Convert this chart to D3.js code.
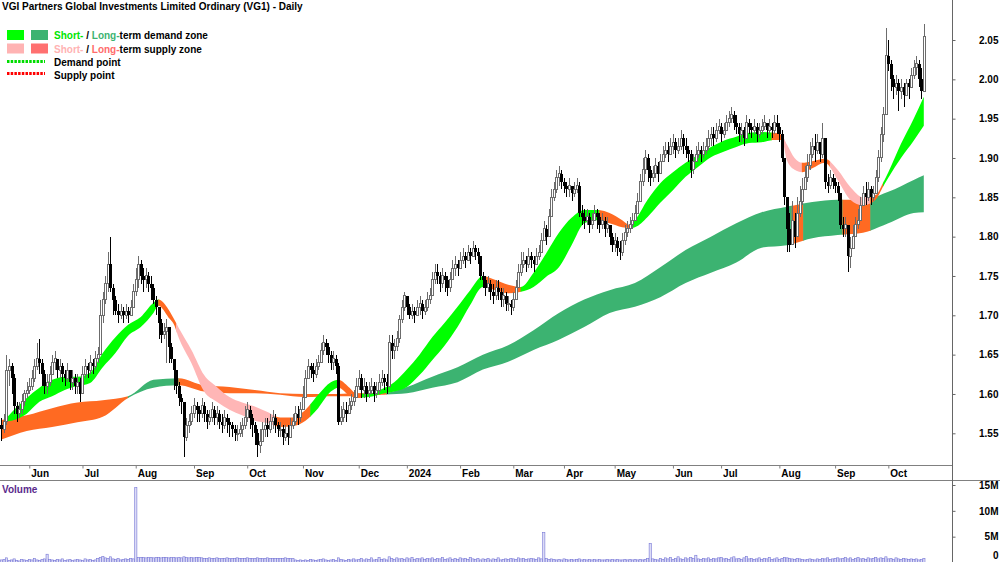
<!DOCTYPE html>
<html>
<head>
<meta charset="utf-8">
<title>VG1 Daily</title>
<script src="https://cdn.jsdelivr.net/npm/d3@7"></script>
<style>
  body { margin: 0; background: #fff; }
  svg { display: block; font-family: "Liberation Sans", Arial, sans-serif; }
</style>
</head>
<body>
<div id="chart"></div>
<script>
// trading calendar (ASX)
const startDate = "2023-05-17";
const holidays = ["2023-06-12", "2023-12-25", "2023-12-26", "2024-01-01", "2024-01-26",
  "2024-03-29", "2024-04-01", "2024-04-25", "2024-06-10"];

// daily closes, one row = 10 sessions
const firstOpen = 1.56;
const closes = [
  1.555,1.565,1.63,1.635,1.62,1.585,1.575,1.58,1.59,1.60,
  1.605,1.61,1.62,1.635,1.645,1.64,1.625,1.61,1.615,1.625,
  1.64,1.645,1.63,1.635,1.625,1.62,1.63,1.615,1.62,1.61,
  1.615,1.60,1.625,1.635,1.63,1.64,1.635,1.645,1.65,1.70,
  1.72,1.74,1.765,1.735,1.72,1.705,1.70,1.705,1.70,1.705,
  1.70,1.71,1.73,1.745,1.765,1.75,1.745,1.75,1.74,1.735,
  1.72,1.71,1.69,1.675,1.68,1.685,1.66,1.645,1.63,1.61,
  1.595,1.59,1.545,1.56,1.565,1.575,1.585,1.58,1.575,1.585,
  1.575,1.565,1.57,1.58,1.57,1.575,1.565,1.56,1.57,1.565,
  1.56,1.555,1.55,1.55,1.555,1.56,1.57,1.58,1.57,1.56,
  1.55,1.535,1.54,1.555,1.56,1.555,1.565,1.57,1.56,1.555,
  1.555,1.545,1.55,1.545,1.56,1.565,1.575,1.57,1.58,1.595,
  1.62,1.635,1.63,1.625,1.635,1.64,1.655,1.665,1.66,1.65,
  1.64,1.645,1.635,1.565,1.57,1.58,1.575,1.585,1.59,1.595,
  1.61,1.62,1.605,1.61,1.60,1.605,1.61,1.60,1.605,1.615,
  1.62,1.615,1.61,1.665,1.655,1.66,1.67,1.695,1.71,1.725,
  1.71,1.70,1.705,1.70,1.71,1.715,1.705,1.71,1.72,1.725,
  1.745,1.755,1.75,1.74,1.75,1.745,1.735,1.745,1.76,1.765,
  1.76,1.77,1.775,1.77,1.78,1.775,1.785,1.78,1.775,1.75,
  1.745,1.735,1.74,1.73,1.725,1.735,1.73,1.72,1.725,1.715,
  1.715,1.71,1.72,1.735,1.755,1.765,1.77,1.765,1.775,1.77,
  1.765,1.775,1.78,1.795,1.81,1.80,1.825,1.85,1.86,1.875,
  1.88,1.87,1.865,1.86,1.865,1.855,1.86,1.865,1.83,1.825,
  1.82,1.825,1.815,1.82,1.83,1.825,1.815,1.82,1.81,1.815,
  1.80,1.79,1.795,1.785,1.78,1.795,1.805,1.81,1.815,1.82,
  1.83,1.845,1.87,1.885,1.90,1.885,1.875,1.88,1.89,1.88,
  1.895,1.905,1.91,1.905,1.915,1.92,1.91,1.915,1.925,1.915,
  1.91,1.905,1.885,1.895,1.905,1.91,1.905,1.91,1.915,1.925,
  1.93,1.925,1.935,1.94,1.93,1.935,1.945,1.95,1.955,1.945,
  1.94,1.93,1.935,1.925,1.945,1.94,1.935,1.94,1.93,1.935,
  1.94,1.945,1.935,1.94,1.935,1.945,1.94,1.93,1.90,1.85,
  1.81,1.79,1.82,1.80,1.83,1.845,1.86,1.875,1.89,1.905,
  1.915,1.91,1.92,1.905,1.925,1.87,1.865,1.875,1.87,1.865,
  1.855,1.815,1.81,1.815,1.775,1.785,1.80,1.815,1.82,1.84,
  1.855,1.85,1.86,1.85,1.855,1.875,1.90,1.93,1.955,2.03,
  2.02,2.00,1.99,1.995,1.985,1.99,1.98,1.995,1.99,2.005,
  2.015,2.02,2.00,1.985,2.055
];
const highs = [
  1.57,1.575,1.65,1.645,1.64,1.625,1.59,1.59,1.60,1.605,
  1.615,1.62,1.63,1.645,1.665,1.67,1.645,1.63,1.625,1.635,
  1.65,1.655,1.645,1.645,1.64,1.63,1.64,1.63,1.63,1.625,
  1.625,1.62,1.635,1.645,1.64,1.65,1.645,1.655,1.66,1.72,
  1.73,1.75,1.78,1.80,1.74,1.725,1.715,1.715,1.71,1.715,
  1.71,1.72,1.74,1.76,1.775,1.77,1.76,1.76,1.755,1.75,
  1.74,1.725,1.705,1.695,1.69,1.695,1.67,1.665,1.645,1.625,
  1.615,1.60,1.59,1.57,1.575,1.585,1.595,1.59,1.585,1.595,
  1.59,1.58,1.58,1.59,1.585,1.585,1.58,1.575,1.58,1.575,
  1.57,1.565,1.56,1.56,1.565,1.57,1.585,1.59,1.585,1.575,
  1.565,1.555,1.555,1.565,1.57,1.57,1.575,1.58,1.575,1.565,
  1.565,1.56,1.56,1.56,1.57,1.575,1.585,1.585,1.59,1.61,
  1.63,1.645,1.64,1.64,1.645,1.65,1.665,1.675,1.67,1.665,
  1.655,1.655,1.65,1.64,1.585,1.59,1.59,1.595,1.60,1.605,
  1.62,1.63,1.625,1.62,1.615,1.615,1.62,1.615,1.615,1.625,
  1.63,1.625,1.625,1.675,1.675,1.67,1.68,1.70,1.72,1.73,
  1.725,1.715,1.715,1.71,1.72,1.725,1.72,1.72,1.73,1.735,
  1.755,1.765,1.765,1.755,1.76,1.755,1.75,1.755,1.77,1.775,
  1.77,1.78,1.785,1.78,1.79,1.785,1.795,1.79,1.785,1.775,
  1.755,1.75,1.75,1.745,1.74,1.745,1.745,1.735,1.735,1.73,
  1.725,1.72,1.73,1.745,1.765,1.78,1.78,1.775,1.785,1.78,
  1.775,1.785,1.79,1.805,1.82,1.815,1.835,1.86,1.87,1.885,
  1.89,1.885,1.875,1.87,1.875,1.865,1.87,1.875,1.87,1.84,
  1.835,1.835,1.83,1.83,1.84,1.835,1.83,1.83,1.825,1.825,
  1.815,1.805,1.805,1.80,1.795,1.805,1.815,1.82,1.825,1.83,
  1.84,1.855,1.88,1.90,1.91,1.905,1.89,1.89,1.90,1.895,
  1.905,1.915,1.92,1.92,1.925,1.93,1.925,1.925,1.935,1.93,
  1.925,1.915,1.91,1.905,1.915,1.92,1.915,1.92,1.925,1.935,
  1.94,1.94,1.945,1.95,1.945,1.945,1.955,1.96,1.965,1.96,
  1.955,1.945,1.945,1.94,1.955,1.95,1.945,1.95,1.945,1.945,
  1.95,1.955,1.945,1.95,1.945,1.955,1.955,1.945,1.935,1.87,
  1.85,1.83,1.845,1.83,1.85,1.865,1.875,1.89,1.905,1.92,
  1.925,1.93,1.93,1.92,1.945,1.925,1.88,1.885,1.88,1.875,
  1.87,1.855,1.825,1.825,1.80,1.80,1.815,1.825,1.835,1.85,
  1.865,1.87,1.87,1.865,1.865,1.885,1.91,1.94,1.965,2.065,
  2.05,2.025,2.005,2.005,2.00,2.00,1.995,2.00,2.00,2.015,
  2.025,2.03,2.025,2.015,2.07
];
const lows = [
  1.54,1.55,1.56,1.61,1.60,1.575,1.565,1.57,1.575,1.585,
  1.595,1.60,1.605,1.615,1.63,1.625,1.61,1.60,1.60,1.61,
  1.625,1.63,1.62,1.62,1.615,1.61,1.615,1.605,1.605,1.60,
  1.60,1.59,1.60,1.62,1.62,1.625,1.625,1.63,1.64,1.65,
  1.69,1.715,1.73,1.73,1.70,1.70,1.69,1.695,1.69,1.695,
  1.69,1.70,1.71,1.725,1.735,1.74,1.73,1.735,1.73,1.72,
  1.715,1.70,1.67,1.665,1.67,1.64,1.64,1.64,1.605,1.60,
  1.585,1.575,1.52,1.54,1.55,1.56,1.57,1.565,1.565,1.57,
  1.565,1.555,1.56,1.565,1.56,1.56,1.555,1.55,1.555,1.55,
  1.545,1.545,1.54,1.54,1.545,1.545,1.555,1.565,1.555,1.545,
  1.535,1.52,1.525,1.54,1.545,1.545,1.55,1.555,1.55,1.545,
  1.545,1.535,1.54,1.535,1.545,1.555,1.56,1.56,1.565,1.58,
  1.605,1.62,1.62,1.615,1.62,1.63,1.64,1.65,1.65,1.64,
  1.63,1.63,1.625,1.56,1.56,1.565,1.565,1.575,1.58,1.585,
  1.595,1.605,1.595,1.595,1.59,1.595,1.60,1.59,1.595,1.60,
  1.61,1.605,1.60,1.615,1.645,1.645,1.655,1.665,1.69,1.705,
  1.70,1.695,1.695,1.69,1.70,1.70,1.695,1.70,1.705,1.715,
  1.725,1.74,1.74,1.73,1.735,1.73,1.725,1.73,1.745,1.75,
  1.75,1.76,1.765,1.76,1.77,1.765,1.775,1.77,1.765,1.745,
  1.735,1.725,1.73,1.72,1.715,1.72,1.72,1.71,1.71,1.705,
  1.705,1.70,1.705,1.72,1.735,1.75,1.76,1.755,1.76,1.76,
  1.755,1.765,1.77,1.78,1.795,1.79,1.80,1.825,1.845,1.855,
  1.865,1.86,1.855,1.85,1.85,1.845,1.85,1.855,1.825,1.815,
  1.81,1.815,1.805,1.81,1.82,1.81,1.805,1.81,1.80,1.805,
  1.79,1.78,1.78,1.775,1.77,1.775,1.79,1.80,1.805,1.81,
  1.82,1.83,1.845,1.865,1.88,1.87,1.865,1.87,1.875,1.87,
  1.885,1.895,1.90,1.895,1.905,1.905,1.90,1.905,1.91,1.905,
  1.90,1.895,1.875,1.88,1.895,1.90,1.895,1.90,1.905,1.91,
  1.915,1.915,1.92,1.93,1.92,1.925,1.935,1.94,1.945,1.935,
  1.93,1.92,1.92,1.915,1.925,1.93,1.925,1.93,1.92,1.925,
  1.93,1.935,1.925,1.93,1.925,1.93,1.93,1.92,1.895,1.84,
  1.78,1.78,1.79,1.785,1.80,1.825,1.84,1.86,1.87,1.885,
  1.90,1.895,1.905,1.895,1.90,1.86,1.855,1.86,1.86,1.855,
  1.845,1.81,1.80,1.80,1.755,1.76,1.785,1.80,1.81,1.82,
  1.84,1.84,1.845,1.84,1.845,1.855,1.87,1.895,1.92,1.955,
  2.01,1.985,1.975,1.98,1.96,1.975,1.965,1.98,1.975,1.99,
  2.00,2.005,1.99,1.975,1.985
];
// volume, millions
const volumes = [
  0.5,0.6,0.9,0.4,0.5,0.7,0.4,0.3,0.6,0.5,
  0.4,0.6,0.5,0.8,0.5,0.4,0.6,0.7,1.6,0.6,
  0.5,0.4,0.6,0.5,0.7,0.4,0.5,0.6,0.4,0.5,
  0.6,0.5,0.4,0.7,0.5,0.6,0.4,0.5,0.8,1.0,
  1.2,0.9,0.8,1.1,0.7,0.6,0.8,0.5,0.6,0.7,
  0.6,0.8,0.7,14.5,1.0,1.0,1.0,0.9,1.0,1.0,
  0.9,1.0,1.0,0.9,1.0,1.0,0.9,1.0,1.0,0.9,
  1.0,0.9,1.1,1.0,0.9,1.0,0.9,1.0,1.0,0.9,
  0.8,0.8,0.9,0.8,0.8,0.9,0.8,0.8,0.8,0.9,
  0.8,0.8,0.8,0.9,0.8,0.8,0.8,0.9,0.8,0.8,
  0.8,0.9,0.8,0.8,0.8,0.9,0.8,0.8,0.8,0.8,
  0.8,0.8,0.9,0.8,0.8,0.8,0.5,0.4,0.5,0.4,
  0.5,0.4,0.6,0.5,0.4,0.5,0.6,0.7,0.5,0.4,
  0.5,0.6,0.4,0.9,0.6,0.5,0.4,0.6,0.5,0.7,
  0.5,0.6,0.8,0.5,0.7,0.6,0.9,0.5,0.6,1.0,
  0.6,0.7,0.5,1.1,0.8,0.6,0.9,0.7,0.8,0.6,
  0.9,0.7,1.0,0.6,0.8,0.7,0.9,0.6,0.8,0.7,
  0.9,0.6,0.8,0.7,1.0,0.6,0.7,0.9,0.6,0.8,
  0.6,0.9,0.7,0.8,0.6,1.0,0.7,0.6,0.8,0.5,
  0.7,0.6,0.8,0.5,0.7,0.6,0.9,0.5,0.6,0.7,
  0.6,0.8,0.7,0.6,0.9,0.7,0.8,0.6,0.7,0.8,
  0.7,0.6,0.9,0.7,5.8,0.8,0.6,0.7,0.6,0.5,
  0.6,0.5,0.7,0.6,0.5,0.6,0.5,0.6,0.7,0.5,
  0.6,0.5,0.6,0.5,0.6,0.5,0.6,0.5,0.5,0.6,
  0.5,0.6,0.5,0.6,0.5,0.5,0.6,0.5,0.6,0.5,
  0.6,0.5,0.6,0.5,0.6,0.8,3.7,0.7,0.6,0.5,
  0.8,0.6,0.9,0.7,1.0,0.6,0.8,1.1,0.7,0.6,
  0.9,0.7,1.0,0.8,1.4,0.7,0.6,0.8,0.7,0.9,
  0.6,0.8,0.7,0.9,1.0,0.7,0.8,0.6,0.9,1.1,
  0.7,0.8,0.6,0.9,1.2,0.7,0.8,0.6,0.7,0.9,
  0.6,0.8,0.7,1.0,0.6,0.7,0.9,0.6,0.8,1.0,
  0.9,0.8,0.7,0.6,0.8,0.7,0.6,0.5,0.6,0.7,
  0.6,0.5,0.7,0.6,0.8,0.7,0.9,0.6,0.7,0.8,
  0.9,0.7,0.8,1.0,0.7,0.9,0.6,0.8,1.0,0.7,
  0.8,0.6,0.9,0.7,0.8,1.0,0.7,0.9,0.8,1.1,
  0.7,0.8,0.6,0.9,0.7,0.6,0.8,0.7,0.6,0.7,
  0.6,0.7,0.5,0.6,0.8
];

// short-term zone edges (session index, top, bottom)
const shortIdx = [1,5,10,15,20,25,30,35,40,45,50,55,60,62,66,68,70,75,80,85,90,95,100,105,110,115,120,125,130,133,
  137,140,145,150,155,160,165,170,175,180,185,190,195,200,205,210,215,220,225,230,235,240,245,248,250,255,260,265,270,275,
  280,285,290,295,300,305,308,310,313,316,320,325,330,335,340,345,348,350,355,360,364];
const shortTop = [1.566,1.580,1.595,1.608,1.618,1.622,1.622,1.627,1.652,1.672,1.688,1.698,1.716,1.720,1.707,1.696,1.684,1.656,1.624,1.609,
  1.596,1.589,1.584,1.577,1.570,1.570,1.580,1.599,1.615,1.618,1.609,1.601,1.600,1.606,1.615,1.631,1.650,1.672,1.691,1.711,
  1.732,1.750,1.745,1.739,1.736,1.754,1.779,1.805,1.824,1.834,1.834,1.830,1.821,1.815,1.821,1.847,1.868,1.882,1.894,1.904,
  1.914,1.922,1.927,1.932,1.933,1.932,1.929,1.917,1.900,1.894,1.896,1.899,1.885,1.863,1.850,1.853,1.869,1.882,1.918,1.950,1.978];
const shortBot = [1.565,1.567,1.575,1.590,1.597,1.605,1.610,1.614,1.634,1.652,1.674,1.685,1.703,1.712,1.697,1.689,1.671,1.639,1.603,1.590,
  1.580,1.573,1.566,1.563,1.558,1.559,1.566,1.582,1.603,1.608,1.599,1.595,1.596,1.600,1.603,1.609,1.624,1.643,1.662,1.685,
  1.713,1.736,1.732,1.728,1.730,1.736,1.749,1.761,1.789,1.817,1.821,1.817,1.812,1.811,1.812,1.825,1.843,1.859,1.876,1.889,
  1.901,1.908,1.914,1.919,1.920,1.923,1.923,1.897,1.885,1.882,1.887,1.894,1.872,1.847,1.840,1.847,1.864,1.875,1.900,1.922,1.941];
const shortZones = [[1,62,"demand"],[62,69,"mixed"],[69,108,"supply"],[108,122,"mixed"],[122,133,"demand"],[133,142,"mixed"],
  [142,191,"demand"],[191,205,"mixed"],[205,236,"demand"],[236,249,"mixed"],[249,304,"demand"],[304,308,"mixed"],
  [308,316,"supply"],[316,327,"mixed"],[327,343,"supply"],[343,348,"mixed"],[348,364,"demand"]];

// long-term zone edges
const longIdx = [0,10,20,30,40,50,60,70,80,90,100,110,120,130,140,150,160,170,180,190,200,210,220,230,240,250,260,270,280,290,300,310,320,330,340,350,360,364];
const longTop = [1.567,1.573,1.582,1.589,1.592,1.597,1.618,1.620,1.611,1.609,1.605,1.601,1.600,1.600,1.601,1.601,1.609,1.622,1.634,1.650,
  1.662,1.681,1.703,1.720,1.732,1.741,1.761,1.783,1.800,1.817,1.831,1.838,1.844,1.847,1.847,1.857,1.872,1.878];
const longBot = [1.542,1.553,1.558,1.564,1.571,1.595,1.608,1.611,1.603,1.601,1.601,1.599,1.596,1.597,1.597,1.599,1.601,1.608,1.615,1.631,
  1.641,1.656,1.669,1.685,1.703,1.711,1.723,1.741,1.754,1.767,1.786,1.789,1.798,1.802,1.805,1.817,1.830,1.831];
const longZones = [[0,50,"mixed"],[50,70,"demand"],[70,152,"mixed"],[152,312,"demand"],[312,316.5,"mixed"],
  [316.5,332,"demand"],[332,343,"mixed"],[343,364,"demand"]];

const priceTicks = [1.55, 1.60, 1.65, 1.70, 1.75, 1.80, 1.85, 1.90, 1.95, 2.00, 2.05];
const volumeTicks = [0, 5, 10, 15];

// ---------------------------------------------------------------
const W = 1000, H = 562;
const axisX = 952, priceBottom = 465.5, volTop = 480.5;
const FONT = "'Liberation Sans', Arial, sans-serif";

const shortColors = { demand: "#00ff00", supply: "#ffb6b6", mixed: "#ff6a22" };
const longColors = { demand: "#3cb371", mixed: "#ff6a22" };

// trading days -> month ticks
const fmt = d3.utcFormat("%Y-%m-%d");
const days = [];
let d = d3.utcParse("%Y-%m-%d")(startDate);
while (days.length < closes.length) {
  const wd = d.getUTCDay();
  if (wd > 0 && wd < 6 && !holidays.includes(fmt(d))) days.push(d);
  d = d3.utcDay.offset(d, 1);
}
const monthIdx = d3.range(1, days.length).filter(i => days[i].getUTCMonth() !== days[i - 1].getUTCMonth());
const monthLabel = i => days[i].getUTCMonth() === 0 ? d3.utcFormat("%Y")(days[i]) : d3.utcFormat("%b")(days[i]);

const x = d3.scaleLinear().domain([0, closes.length - 1]).range([1.4, 923.8]);
const y = d3.scaleLinear().domain([1.55, 2.05]).range([433.3, 40]);
const yv = d3.scaleLinear().domain([0, 15]).range([562.5, 485]);

const svg = d3.select("#chart").append("svg")
  .attr("width", W).attr("height", H)
  .attr("font-family", FONT);
svg.append("rect").attr("width", W).attr("height", H).attr("fill", "#fff");
const defs = svg.append("defs");
defs.append("clipPath").attr("id", "pricePanel")
  .append("rect").attr("x", 0).attr("y", 0).attr("width", axisX).attr("height", priceBottom);

const plot = svg.append("g").attr("clip-path", "url(#pricePanel)");

function drawBand(idx, top, bot, zones, colors, name) {
  const pts = idx.map((v, k) => ({ i: v, t: top[k], b: bot[k] }));
  const area = d3.area()
    .x(p => x(p.i)).y0(p => y(p.b)).y1(p => y(p.t))
    .curve(d3.curveMonotoneX);
  const g = plot.append("g");
  zones.forEach(([a, b, kind], k) => {
    const id = name + k;
    defs.append("clipPath").attr("id", id).append("rect")
      .attr("x", x(a) - 0.3).attr("y", 0)
      .attr("width", x(b) - x(a) + 0.6).attr("height", priceBottom);
    g.append("path").attr("d", area(pts))
      .attr("fill", colors[kind])
      .attr("clip-path", `url(#${id})`);
  });
}
drawBand(longIdx, longTop, longBot, longZones, longColors, "lz");
drawBand(shortIdx, shortTop, shortBot, shortZones, shortColors, "sz");

// candles (open = prior close)
const candles = closes.map((c, i) => {
  const o = i ? closes[i - 1] : firstOpen;
  return { i, o, c, h: Math.max(highs[i], o, c), l: Math.min(lows[i], o, c) };
});
const cg = plot.append("g").attr("shape-rendering", "crispEdges");
candles.forEach(k => {
  const cx = Math.round(x(k.i));
  const up = k.c >= k.o;
  const col = up ? "#6c6c6c" : "#000";
  cg.append("rect").attr("x", cx).attr("width", 1)
    .attr("y", y(k.h)).attr("height", Math.max(1, y(k.l) - y(k.h)))
    .attr("fill", col);
  const top = y(Math.max(k.o, k.c)), bh = Math.max(1, y(Math.min(k.o, k.c)) - top);
  if (up) {
    cg.append("rect").attr("x", cx - 0.5).attr("width", 2)
      .attr("y", top).attr("height", bh)
      .attr("fill", "#fff").attr("stroke", col).attr("stroke-width", 1);
  } else {
    cg.append("rect").attr("x", cx - 1).attr("width", 3)
      .attr("y", top).attr("height", bh).attr("fill", "#000");
  }
});

// volume
svg.append("g").selectAll("rect").data(volumes).join("rect")
  .attr("x", (v, i) => x(i) - 1)
  .attr("width", 2.2)
  .attr("y", v => yv(v))
  .attr("height", v => yv(0) - yv(v))
  .attr("fill", "#dcdcf6")
  .attr("stroke", "#7676d6")
  .attr("stroke-width", 0.6);

// frame lines
svg.append("line").attr("x1", 0).attr("x2", axisX).attr("y1", priceBottom).attr("y2", priceBottom)
  .attr("stroke", "#808080");
svg.append("line").attr("x1", 0).attr("x2", W).attr("y1", volTop).attr("y2", volTop)
  .attr("stroke", "#808080");
svg.append("line").attr("x1", axisX + 0.5).attr("x2", axisX + 0.5).attr("y1", 0).attr("y2", H)
  .attr("stroke", "#666");

// price axis
const ay = svg.append("g").attr("transform", `translate(${axisX + 0.5},0)`)
  .call(d3.axisRight(y).tickValues(priceTicks).tickSize(3).tickFormat(d3.format(".2f")));
ay.attr("font-family", FONT);
ay.select(".domain").remove();
ay.selectAll("line").attr("stroke", "#666");
ay.selectAll("text").attr("x", 46).attr("text-anchor", "end")
  .attr("font-size", 10).attr("font-weight", "bold").attr("fill", "#000");

// volume axis
const av = svg.append("g").attr("transform", `translate(${axisX + 0.5},0)`)
  .call(d3.axisRight(yv).tickValues(volumeTicks).tickSize(3).tickFormat(v => v ? v + "M" : "0"));
av.attr("font-family", FONT);
av.select(".domain").remove();
av.selectAll("line").attr("stroke", "#666");
av.selectAll("text").attr("x", 46).attr("text-anchor", "end")
  .attr("font-size", 10).attr("font-weight", "bold").attr("fill", "#000")
  .attr("dy", v => v ? "0.32em" : "-0.45em");

// month axis
const ax = svg.append("g").attr("transform", `translate(0,${priceBottom})`)
  .call(d3.axisBottom(x).tickValues(monthIdx).tickSize(3).tickFormat(monthLabel));
ax.attr("font-family", FONT);
ax.select(".domain").remove();
ax.selectAll("line").attr("stroke", "#808080");
ax.selectAll("text").attr("x", 1.5).attr("y", 11.5).attr("dy", null)
  .attr("text-anchor", "start").attr("font-size", 10).attr("font-weight", "bold").attr("fill", "#000");

// title
svg.append("text").attr("x", 2).attr("y", 10)
  .attr("font-size", 10).attr("font-weight", "bold")
  .text("VGI Partners Global Investments Limited Ordinary (VG1) - Daily");

// legend
const lg = svg.append("g").attr("font-size", 10).attr("font-weight", "bold");
lg.append("rect").attr("x", 7).attr("y", 30).attr("width", 17).attr("height", 10).attr("fill", shortColors.demand);
lg.append("rect").attr("x", 31).attr("y", 30).attr("width", 17).attr("height", 10).attr("fill", longColors.demand);
lg.append("rect").attr("x", 7).attr("y", 43.5).attr("width", 17).attr("height", 10).attr("fill", "#ffb3b3");
lg.append("rect").attr("x", 31).attr("y", 43.5).attr("width", 17).attr("height", 10).attr("fill", "#ff7070");
lg.append("line").attr("x1", 7).attr("x2", 45).attr("y1", 61.5).attr("y2", 61.5)
  .attr("stroke", "#00dd00").attr("stroke-width", 3).attr("stroke-dasharray", "2.5,1.2");
lg.append("line").attr("x1", 7).attr("x2", 45).attr("y1", 73.5).attr("y2", 73.5)
  .attr("stroke", "#ff0000").attr("stroke-width", 3).attr("stroke-dasharray", "2.5,1.2");

const row1 = lg.append("text").attr("x", 54).attr("y", 39);
row1.append("tspan").attr("fill", "#00e600").text("Short-");
row1.append("tspan").attr("fill", "#000").text(" / ");
row1.append("tspan").attr("fill", "#3cb371").text("Long-");
row1.append("tspan").attr("fill", "#000").text("term demand zone");
const row2 = lg.append("text").attr("x", 54).attr("y", 52.5);
row2.append("tspan").attr("fill", "#ffb3b3").text("Short-");
row2.append("tspan").attr("fill", "#000").text(" / ");
row2.append("tspan").attr("fill", "#ff6b6b").text("Long-");
row2.append("tspan").attr("fill", "#000").text("term supply zone");
lg.append("text").attr("x", 54).attr("y", 65.5).text("Demand point");
lg.append("text").attr("x", 54).attr("y", 78.5).text("Supply point");

// volume label
svg.append("text").attr("x", 2).attr("y", 493)
  .attr("font-size", 10).attr("font-weight", "bold").attr("fill", "#5a2a8c")
  .text("Volume");
</script>
</body>
</html>
